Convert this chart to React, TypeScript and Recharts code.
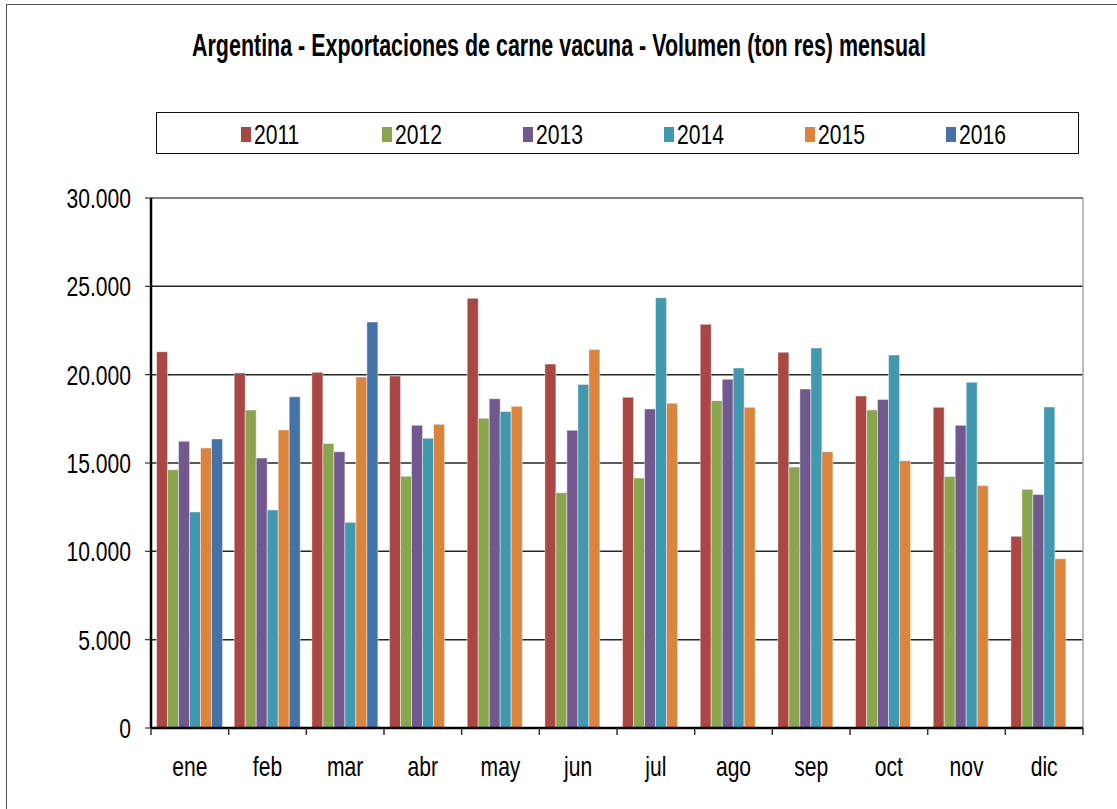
import React from "react";
import {
  BarChart,
  Bar,
  XAxis,
  YAxis,
  CartesianGrid,
  ReferenceLine,
} from "recharts";

const months = ["ene", "feb", "mar", "abr", "may", "jun", "jul", "ago", "sep", "oct", "nov", "dic"];
const years = ["2011", "2012", "2013", "2014", "2015", "2016"];
const colors = ["#AA4643", "#89A54E", "#71588F", "#4198AF", "#DB843D", "#4572A7"];

const v2011 = [21300, 20100, 20130, 19920, 24320, 20600, 18720, 22850, 21270, 18790, 18150, 10850];
const v2012 = [14620, 18000, 16110, 14250, 17530, 13320, 14150, 18530, 14770, 18000, 14230, 13510];
const v2013 = [16230, 15280, 15640, 17130, 18640, 16850, 18060, 19740, 19190, 18600, 17130, 13210];
const v2014 = [12230, 12340, 11640, 16400, 17920, 19450, 24360, 20380, 21510, 21110, 19570, 18170];
const v2015 = [15850, 16870, 19870, 17190, 18210, 21430, 18380, 18150, 15640, 15130, 13720, 9580];
const v2016 = [16360, 18750, 22980, null, null, null, null, null, null, null, null, null];
const yTicks = [0, 5000, 10000, 15000, 20000, 25000, 30000];

const seriesValues = [v2011, v2012, v2013, v2014, v2015, v2016];

const data = months.map((m, i) => {
  const row: Record<string, any> = { month: m };
  years.forEach((y, k) => {
    row[y] = seriesValues[k][i];
  });
  return row;
});

const FONT = "'Liberation Sans', Arial, sans-serif";
const SQUEEZE = 0.74;
const PLOT_LEFT = 151;
const PLOT_RIGHT = 1083;
const BAND = (PLOT_RIGHT - PLOT_LEFT) / months.length;

const fmt = (n: number) => n.toLocaleString("de-DE");

function YTick({ x, y, payload }: any) {
  return (
    <g transform={`translate(${x},${y}) scale(${SQUEEZE},1)`}>
      <text textAnchor="end" dy={10} fontSize={28.5} fill="#000" fontFamily={FONT}>
        {fmt(payload.value)}
      </text>
    </g>
  );
}

function XTick({ x, y, payload, index }: any) {
  const left = x - BAND / 2;
  return (
    <g>
      <line x1={left} x2={left} y1={y} y2={y + 7} stroke="#333" strokeWidth={1.5} />
      {index === months.length - 1 && (
        <line x1={x + BAND / 2} x2={x + BAND / 2} y1={y} y2={y + 7} stroke="#333" strokeWidth={1.5} />
      )}
      <g transform={`translate(${x},${y + 47.5}) scale(${SQUEEZE},1)`}>
        <text textAnchor="middle" fontSize={28.5} fill="#000" fontFamily={FONT}>
          {payload.value}
        </text>
      </g>
    </g>
  );
}

export default function App() {
  return (
    <div
      style={{
        position: "absolute",
        left: 0,
        top: 0,
        width: 1117,
        height: 809,
        overflow: "hidden",
        background: "#fff",
      }}
    >
      {/* outer frame (only top/left visible) */}
      <div
        style={{
          position: "absolute",
          left: 6,
          top: 4,
          width: 1200,
          height: 900,
          borderLeft: "1.5px solid #555",
          borderTop: "1.5px solid #555",
        }}
      />

      <svg width={1117} height={100} style={{ position: "absolute", left: 0, top: 0 }}>
        <text
          x={559}
          y={56}
          textAnchor="middle"
          fontSize={31.5}
          fontWeight="bold"
          fontFamily={FONT}
          fill="#000"
          textLength={734}
          lengthAdjust="spacingAndGlyphs"
        >
          Argentina - Exportaciones de carne vacuna - Volumen (ton res) mensual
        </text>
      </svg>

      {/* legend */}
      <div
        style={{
          position: "absolute",
          left: 156,
          top: 112,
          width: 921,
          height: 40,
          border: "1.5px solid #111",
        }}
      >
        {years.map((y, k) => (
          <div
            key={y}
            style={{
              position: "absolute",
              left: 84 + k * 141,
              top: 0,
              height: 40,
              display: "flex",
              alignItems: "center",
            }}
          >
            <span
              style={{
                display: "inline-block",
                width: 10,
                height: 15,
                background: colors[k],
                marginRight: 3,
                marginTop: 2,
              }}
            />
            <span
              style={{
                display: "inline-block",
                fontFamily: FONT,
                fontSize: 28.5,
                lineHeight: "28px",
                color: "#000",
                transform: `scaleX(${SQUEEZE})`,
                transformOrigin: "left center",
                marginTop: 2,
              }}
            >
              {y}
            </span>
          </div>
        ))}
      </div>

      <div style={{ position: "absolute", left: 0, top: 0 }}>
        <BarChart
          width={1117}
          height={809}
          data={data}
          margin={{ top: 198, right: 1117 - PLOT_RIGHT, bottom: 21, left: PLOT_LEFT - 100 }}
          barCategoryGap="7.14%"
          barGap={0}
        >
          <CartesianGrid vertical={false} stroke="#262626" strokeWidth={1.5} />
          <CartesianGrid horizontal={false} verticalPoints={[PLOT_RIGHT]} stroke="#a6a6a6" strokeWidth={1.5} />
          <ReferenceLine y={30000} stroke="#8c8c8c" strokeWidth={1.5} />
          <XAxis
            dataKey="month"
            height={60}
            tickLine={false}
            tickSize={0}
            tickMargin={0}
            axisLine={{ stroke: "#000", strokeWidth: 2.5 }}
            tick={<XTick />}
            interval={0}
          />
          <YAxis
            width={100}
            domain={[0, 30000]}
            ticks={yTicks}
            tickSize={6}
            tickMargin={14}
            tickLine={{ stroke: "#333", strokeWidth: 1.2 }}
            axisLine={{ stroke: "#000", strokeWidth: 2.5 }}
            tick={<YTick />}
            interval={0}
          />
          {years.map((y, k) => (
            <Bar
              key={y}
              dataKey={y}
              fill={colors[k]}
              stroke="rgba(255,255,255,0.45)"
              strokeWidth={1}
              isAnimationActive={false}
            />
          ))}
        </BarChart>
      </div>
    </div>
  );
}
